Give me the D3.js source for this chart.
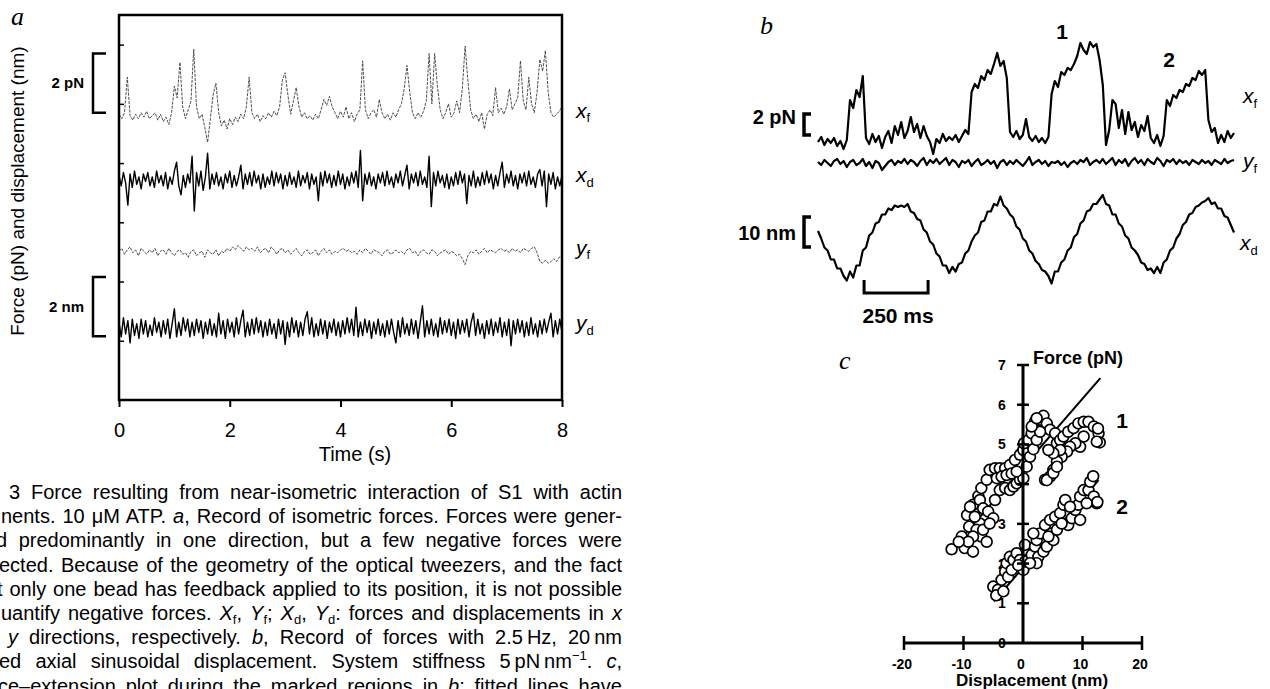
<!DOCTYPE html>
<html>
<head>
<meta charset="utf-8">
<script src="https://cdn.jsdelivr.net/npm/d3@7/dist/d3.min.js"></script>
<style>
  body { margin: 0; background: #fff; }
  svg { display: block; }
</style>
</head>
<body>
<svg id="fig" width="1270" height="689"></svg>
<script>
// ---------- panel a : isometric record (8 s) ----------
var timeTicksA = [0, 2, 4, 6, 8];
var levelTicksA = [2, 4, 6, 8, 10, 12];
var traceNamesA = [["x", "f"], ["x", "d"], ["y", "f"], ["y", "d"]];
var traceOffsetsA = [9.6, 7.43, 4.97, 2.43];

// x_f, sampled every 0.05 s (deviation from its baseline)
var xfA = [0.05,-0.1,0.1,1.3,0.0,-0.15,0.05,-0.1,0.1,-0.05,
  0.15,-0.1,0.0,0.1,-0.15,0.05,-0.2,-0.05,-0.3,0.1,
  1.0,0.6,1.8,0.3,-0.1,0.2,0.5,2.25,0.3,-0.1,
  0.05,-0.4,-0.9,-0.1,0.7,1.1,0.1,-0.35,-0.15,-0.45,
  -0.1,-0.3,-0.05,-0.2,0.05,-0.1,0.3,1.3,0.1,-0.1,
  0.05,-0.2,0.0,-0.1,0.1,-0.05,0.15,0.0,0.3,1.2,
  1.45,0.7,0.05,0.5,0.95,0.3,-0.05,0.1,-0.1,0.0,
  -0.15,0.05,-0.1,0.2,0.55,0.35,0.65,0.3,0.1,-0.1,
  0.15,-0.05,0.3,-0.1,0.1,-0.2,0.05,0.2,1.85,0.2,
  -0.1,0.1,0.2,-0.05,0.55,0.1,-0.1,0.05,-0.15,0.1,
  -0.05,0.2,0.4,0.9,1.7,0.8,0.1,-0.1,0.1,-0.05,
  0.15,0.5,2.1,0.4,2.1,1.0,0.2,-0.1,0.1,0.4,
  -0.05,0.1,0.5,0.1,0.9,2.35,1.2,0.2,-0.1,0.05,
  -0.2,0.1,-0.45,0.05,0.2,0.0,0.95,0.1,0.25,0.05,
  0.3,0.9,0.2,0.4,0.6,1.85,0.5,0.2,1.3,0.4,
  0.1,0.8,1.9,1.5,2.2,0.8,0.1,-0.05,0.05,0.15,
  0.3];

// x_d, sampled every 0.04 s
var xdA = [0.15,-0.2,0.25,-0.1,-0.85,0.2,-0.25,0.3,-0.15,0.1,-0.3,0.2,-0.05,0.25,-0.2,0.1,-0.25,0.3,-0.1,0.15,
  -0.2,0.25,-0.3,0.1,-0.15,0.3,0.6,-0.2,-0.5,0.15,-0.25,0.2,-0.1,0.8,-1.05,0.25,-0.2,0.3,-0.35,0.1,
  0.9,-0.3,0.2,-0.15,0.25,-0.2,0.1,-0.3,0.2,-0.1,0.3,-0.25,0.15,-0.2,0.1,0.5,-0.3,0.2,-0.15,0.25,
  -0.2,0.3,-0.1,0.15,-0.3,0.2,-0.25,0.1,-0.15,0.3,-0.2,0.25,-0.1,0.2,-0.3,0.15,-0.2,0.25,-0.15,0.1,
  -0.25,0.3,-0.2,0.15,-0.1,0.25,-0.3,0.2,-0.15,0.1,-0.7,0.25,-0.2,0.3,-0.1,0.2,-0.25,0.15,-0.2,0.3,
  -0.15,0.2,-0.3,0.1,-0.2,0.25,-0.1,0.3,-0.25,1.0,-0.7,0.2,-0.15,0.25,-0.2,0.1,-0.3,0.2,-0.1,0.25,
  -0.2,0.3,-0.15,0.1,-0.25,0.2,-0.1,0.3,-0.2,0.15,0.5,-0.3,0.2,-0.1,0.25,-0.2,0.3,-0.15,0.1,-0.25,
  0.8,-0.9,0.25,-0.2,0.3,-0.1,0.15,-0.25,0.2,-0.3,0.1,-0.2,0.25,-0.15,0.3,-0.1,0.2,-0.8,0.15,-0.2,
  0.3,-0.25,0.1,-0.2,0.25,-0.15,0.3,-0.1,0.2,-0.3,0.15,-0.2,0.25,0.6,-0.25,0.2,-0.1,0.3,-0.2,0.15,
  -0.3,0.2,-0.1,0.25,-0.2,0.3,-0.15,0.1,-0.25,0.2,0.35,-0.2,0.3,-0.9,0.2,-0.15,0.25,-0.3,0.1,-0.2,
  0.15];

// y_f, sampled every 0.05 s
var yfA = [0.05,0.15,-0.05,0.1,0.2,0.0,0.1,-0.1,0.15,0.05,-0.05,0.1,0.0,0.15,-0.1,0.05,0.1,-0.05,0.15,0.0,
  -0.1,0.05,0.1,-0.05,0.0,-0.15,0.05,0.1,-0.1,0.0,0.05,-0.15,0.1,0.0,-0.05,0.1,-0.1,0.05,0.0,0.15,
  0.05,0.2,0.1,0.25,0.15,0.05,0.2,0.1,0.15,0.05,0.2,0.0,0.1,0.15,0.0,0.2,0.1,-0.05,0.1,0.15,
  0.0,0.1,-0.05,0.05,0.15,0.0,-0.1,0.05,0.1,-0.05,0.0,0.1,-0.1,0.05,0.15,0.0,0.1,-0.05,0.05,0.0,
  0.1,0.15,0.05,0.1,0.0,0.05,-0.05,0.1,0.0,0.15,0.05,-0.05,0.1,0.05,0.0,-0.1,0.05,0.1,-0.05,0.0,
  0.1,0.0,0.05,-0.05,0.1,0.15,0.0,0.05,-0.1,0.05,0.1,0.0,-0.05,0.1,0.05,-0.1,0.0,0.05,0.1,-0.05,
  0.05,0.0,-0.1,-0.05,-0.2,-0.4,-0.1,0.05,0.0,0.1,-0.05,0.05,0.15,0.0,0.1,0.05,0.0,0.1,0.15,0.05,
  0.1,0.0,0.15,0.05,0.1,0.0,0.15,0.1,0.05,0.15,0.2,0.0,-0.3,-0.35,-0.25,-0.35,-0.3,-0.2,-0.3,-0.15,
  -0.1];

// y_d, sampled every 0.04 s
var ydA = [0.2,-0.3,0.35,-0.2,0.25,-0.5,0.3,-0.25,0.15,-0.35,0.3,-0.2,0.25,-0.3,0.1,-0.25,0.35,-0.15,0.2,-0.3,
  0.25,-0.2,0.3,-0.35,0.15,0.65,-0.3,0.2,-0.25,0.35,-0.1,0.3,-0.3,0.2,-0.25,0.3,-0.15,0.25,-0.35,0.2,
  -0.2,0.3,-0.25,0.15,-0.3,0.5,-0.2,0.25,-0.35,0.3,-0.15,0.2,-0.3,0.35,-0.2,0.25,0.6,-0.3,0.2,-0.25,
  0.3,-0.2,0.35,-0.15,0.25,-0.3,0.2,-0.25,0.3,-0.2,0.15,-0.35,0.3,-0.2,0.25,-0.55,0.2,-0.3,0.35,-0.15,
  0.25,-0.3,0.2,-0.25,0.3,0.55,-0.2,0.35,-0.3,0.15,-0.25,0.3,-0.2,0.25,-0.35,0.2,-0.15,0.3,-0.25,0.2,
  -0.3,0.25,-0.2,0.35,-0.15,0.3,-0.25,0.7,-0.3,0.2,-0.25,0.3,-0.15,0.25,-0.35,0.2,-0.2,0.3,-0.25,0.15,
  -0.3,0.25,-0.2,0.3,-0.15,-0.5,0.25,-0.3,0.35,-0.2,0.15,-0.25,0.3,-0.2,0.25,-0.35,0.2,0.75,-0.3,0.25,
  -0.2,0.3,-0.25,0.15,-0.3,0.35,-0.2,0.25,-0.15,0.3,-0.25,0.2,-0.35,0.3,-0.2,0.25,-0.15,0.3,-0.3,0.2,
  0.5,-0.25,0.3,-0.2,0.15,-0.35,0.25,-0.2,0.3,-0.25,0.2,-0.15,0.35,-0.3,0.2,-0.25,0.3,-0.6,0.25,-0.2,
  0.3,-0.15,0.25,-0.3,0.2,-0.25,0.35,-0.2,0.15,-0.3,0.25,-0.2,0.3,-0.15,0.2,0.5,-0.3,0.25,-0.2,0.3,
  -0.15];

var bracketsA = [["2 pN", 9.7, 11.7], ["2 nm", 2.15, 4.15]];

// ---------- panel b : 2.5 Hz sinusoidal displacement, 12.5 ms steps ----------
var stepB = 12.5;
var scaleBarB = [180, 430];   // ms
var xfB = [-0.2,0.3,-0.5,0.1,-0.3,0.2,-0.6,-0.1,-0.9,0.0,
  4.0,3.2,5.0,4.3,6.4,0.2,-0.4,0.6,-0.2,0.4,
  -0.8,0.3,0.9,-0.3,1.4,0.5,1.8,0.2,0.9,2.3,
  0.8,1.6,0.2,1.4,0.4,-0.2,-1.4,0.1,-0.3,0.6,
  -0.1,0.3,0.0,0.5,-0.2,0.4,1.0,0.6,4.8,5.6,
  5.2,6.4,6.0,7.0,6.6,7.6,8.7,7.4,7.9,6.2,
  0.8,0.3,0.9,0.1,0.5,2.1,0.3,-0.1,0.4,-0.2,
  0.2,-0.3,0.3,4.6,5.9,5.3,6.8,6.5,7.2,7.0,
  7.6,8.4,9.7,9.0,8.6,9.8,9.3,9.6,8.0,5.5,
  -0.5,1.0,4.0,3.6,1.2,3.0,0.6,2.8,1.0,1.8,
  0.3,1.5,0.9,2.4,0.2,-0.3,0.5,-0.6,0.4,4.0,
  3.4,4.5,4.2,5.0,4.8,5.6,5.4,6.2,6.0,6.9,
  6.5,7.0,2.0,0.8,1.2,-0.3,0.5,-0.2,0.9,0.2,
  0.7];
var yfOffsetB = -2.3;
var yfB = [0.1,-0.2,0.3,0.0,-0.3,0.2,0.4,-0.1,0.2,-0.4,0.1,0.3,-0.2,0.0,0.4,-0.3,0.1,-0.5,0.2,0.0,
  -0.7,-0.3,0.1,0.3,-0.2,0.2,0.0,0.4,-0.1,0.3,0.1,-0.3,0.2,0.5,-0.2,0.3,0.0,0.4,-0.1,0.2,
  0.5,-0.2,0.3,0.1,-0.4,0.2,0.0,0.3,-0.3,0.1,0.4,-0.2,0.0,0.3,-0.1,0.2,-0.5,0.1,0.3,-0.2,
  0.2,-0.1,0.3,0.0,-0.3,0.1,0.6,-0.2,0.1,0.3,-0.1,0.2,-0.3,0.1,0.0,0.2,-0.2,0.1,-0.4,0.0,
  0.2,-0.1,0.3,0.1,0.5,-0.2,0.1,0.3,0.0,0.4,-0.1,0.2,0.5,-0.2,0.3,0.0,0.4,-0.3,0.2,0.5,
  0.0,0.3,-0.2,0.4,0.1,-0.1,0.5,0.2,-0.3,0.3,0.1,0.4,-0.1,0.3,0.0,0.2,-0.2,0.3,0.1,-0.1,
  0.3,0.0,0.2,-0.2,0.3,0.1,-0.1,0.4,0.0,0.2,0.3];
var xdB = [3,0.5,-2.5,-3.5,-6.5,-6.5,-9.5,-9.5,-12,-13.5,
  -10.5,-12.5,-8.5,-8.5,-3.5,-2.5,1.5,2.5,5.5,6,
  8.5,8.5,10.5,10,11.5,11,11.5,11,12,9.5,
  9,7,6.5,3.5,2.5,-0.5,-1.5,-4.5,-5.5,-8.5,
  -8.5,-11,-9,-10.5,-8,-7.5,-4.5,-3.5,-0.5,1.5,
  2.5,6,6.5,9.5,9.5,12,11.5,14.5,11.5,10.5,
  8.5,7.5,4.5,3.5,0.5,-0.5,-3.5,-4.5,-7,-8,
  -10,-10.5,-12,-14.5,-10.5,-10.5,-7.5,-6.5,-3.5,-2.5,
  1,2,5.5,6.5,9.5,10,12,12,13.5,15,
  12,11.5,8.5,8.5,5.5,4.5,1.5,0.5,-2.5,-3.5,
  -5,-7.5,-8,-10,-9.5,-11,-9,-11,-7.5,-6.5,
  -3.5,-2.5,0.5,2,5,6,8.5,9,11,11.5,
  12.5,13,14,12,12.5,10.5,10.5,8,7.5,5,
  2.5];

// ---------- panel c : force-extension ----------
var dispTicksC = [-20, -10, 0, 10, 20];
var forceTicksC = [0, 1, 2, 3, 4, 5, 6, 7];
var cluster1 = [[-12.0,2.36],[-10.3,2.68],[-9.8,2.39],[-8.4,2.30],[-9.05,2.93],[-9.4,3.22],[-8.4,3.48],[-7.5,3.70],
  [-7.0,3.90],[-6.1,4.11],[-5.6,4.36],[-4.7,4.40],[-3.9,4.40],[-3.0,4.40],[-2.2,4.48],[-1.35,4.61],[-0.5,4.74],
  [0.06,4.86],[0.17,5.03],[0.9,5.11],[1.46,5.28],[2.02,5.57],[2.87,5.62],[3.43,5.72],[4.0,5.53],[4.55,5.37],
  [5.4,5.28],[5.7,5.03],[6.24,5.11],[6.8,5.2],[7.6,5.32],[8.5,5.41],[9.3,5.53],[10.2,5.57],[11.0,5.57],
  [11.9,5.45],[12.7,5.28],[12.9,5.05],[12.6,5.4],[12.4,5.07],[10.2,5.2],[9.6,4.94],[8.8,5.03],[7.9,4.94],
  [7.4,4.82],[6.5,4.69],[5.7,4.57],[5.1,4.36],[4.55,4.19],[3.7,4.11],[6.24,4.86],[5.1,4.78],[4.27,4.86],
  [-7.25,3.6],[-6.7,3.39],[-5.85,3.31],[-5.0,3.14],[-4.7,3.6],[-3.9,3.85],[-3.0,3.90],[-2.2,3.85],[-1.6,3.94],
  [-1.06,4.02],[-0.5,4.11],[0.06,4.15],[-7.25,3.01],[-7.8,2.85],[-7.0,2.68],[-6.1,2.55],[-8.4,2.68],[-6.7,2.85],
  [-5.6,3.01],[-8.9,3.43],[-8.1,3.18],[-9.2,2.55],[-10.8,2.55],[-4.4,4.15],[-3.6,4.19],[-2.75,4.23],[-1.9,4.27],
  [-1.06,4.32],[0.62,4.44],[1.18,4.69],[1.74,4.88],[2.3,5.11],[2.87,5.32],[1.46,5.45],[2.3,5.66],[4.0,4.1],
  [5.1,4.28],[5.7,4.44]];
var cluster2 = [[-5.0,1.42],[-4.2,1.34],[-3.6,1.59],[-3.0,1.80],[-2.75,2.01],[-2.2,2.17],[-1.6,2.09],[-1.06,2.26],
  [-0.5,2.09],[0.06,1.84],[0.34,2.05],[0.62,2.34],[0.34,2.47],[1.46,2.22],[2.02,2.43],[2.3,2.59],[2.58,2.17],
  [3.43,2.30],[4.0,2.43],[2.87,2.76],[3.7,2.97],[4.55,3.10],[4.83,2.76],[5.7,2.85],[5.4,3.18],[6.24,3.27],
  [6.8,3.48],[7.1,3.60],[7.6,2.97],[8.2,3.14],[8.8,3.35],[9.3,3.48],[9.6,3.69],[10.2,3.85],[11.0,3.85],
  [11.3,4.06],[11.9,3.69],[12.4,3.52],[10.7,3.52],[9.6,3.10],[7.9,3.43],[6.5,3.01],[5.1,2.59],[4.27,2.68],
  [1.74,2.76],[2.3,2.01],[1.18,2.01],[-2.5,1.67],[-1.9,1.84],[-0.8,1.96],[12.5,3.55],[11.8,4.2],[-4.5,1.2],
  [-3.3,1.3]];
var fitLine1 = [[-12.3, 2.3], [13, 6.67]];
var fitLine2 = [[-4.9, 1.05], [12.7, 4.1]];

// ---------- caption ----------
var captionStarts = [9, 1, -4, -1, -3, 1, 8, -1, -2];
var captionLines = [
  [["3 Force resulting from near-isometric interaction of S1 with actin"]],
  [["nents. 10 \u03bcM ATP. "], ["a", "i"], [", Record of isometric forces. Forces were gener-"]],
  [["d predominantly in one direction, but a few negative forces were"]],
  [["ected. Because of the geometry of the optical tweezers, and the fact"]],
  [["t only one bead has feedback applied to its position, it is not possible"]],
  [["uantify negative forces. "], ["X", "i"], ["f", "sub"], [", "], ["Y", "i"], ["f", "sub"], ["; "], ["X", "i"], ["d", "sub"],
   [", "], ["Y", "i"], ["d", "sub"], [": forces and displacements in "], ["x", "i"]],
  [["y", "i"], [" directions, respectively. "], ["b", "i"], [", Record of forces with 2.5\u2009Hz, 20\u2009nm"]],
  [["ed axial sinusoidal displacement. System stiffness 5\u2009pN\u2009nm"], ["\u22121", "sup"], [". "], ["c", "i"], [","]],
  [["ce\u2013extension plot during the marked regions in "], ["b", "i"], ["; fitted lines have"]]
];

var SANS = "'Liberation Sans', Arial, sans-serif";
var SERIF = "'Liberation Serif', 'Times New Roman', serif";
var svg = d3.select("#fig");

function bracket(g, x, y1, y2, serif, sw) {
  g.append("path")
    .attr("d", `M${x + serif},${y1}H${x}V${y2}H${x + serif}`)
    .attr("fill", "none").attr("stroke", "#000").attr("stroke-width", sw);
}

function subLabel(g, x, y, main, sub, size) {
  var t = g.append("text").attr("x", x).attr("y", y)
    .attr("font-family", SANS).attr("font-size", size);
  t.append("tspan").attr("font-style", "italic").text(main);
  t.append("tspan").attr("font-size", size * 0.62).attr("dy", size * 0.22).text(sub);
}

// ================= panel a =================
var xA = d3.scaleLinear().domain([0, 8]).range([119, 562]);
var yA = d3.scaleLinear().domain([0, 13]).range([400, 15]);
var gA = svg.append("g");

gA.append("text").attr("x", 11).attr("y", 25)
  .attr("font-family", SERIF).attr("font-style", "italic").attr("font-size", 26).text("a");

var lineStyleA = [
  { stroke: "#3a3a3a", width: 0.9, dash: "3,1.2" },
  { stroke: "#000", width: 1.4, dash: null },
  { stroke: "#3a3a3a", width: 0.9, dash: "3,1.2" },
  { stroke: "#000", width: 1.4, dash: null }
];
[xfA, xdA, yfA, ydA].forEach(function (vals, k) {
  var n = vals.length;
  var line = d3.line()
    .x(function (d, i) { return xA(i * 8 / (n - 1)); })
    .y(function (d) { return yA(traceOffsetsA[k] + d); });
  gA.append("path").datum(vals)
    .attr("d", line).attr("fill", "none")
    .attr("stroke", lineStyleA[k].stroke)
    .attr("stroke-width", lineStyleA[k].width)
    .attr("stroke-dasharray", lineStyleA[k].dash)
    .attr("stroke-linejoin", "round");
});

// frame
gA.append("rect")
  .attr("x", xA(0)).attr("y", yA(13))
  .attr("width", xA(8) - xA(0)).attr("height", yA(0) - yA(13))
  .attr("fill", "none").attr("stroke", "#000").attr("stroke-width", 2.5);

var axB = gA.append("g").attr("transform", `translate(0,${yA(0)})`)
  .call(d3.axisBottom(xA).tickValues(timeTicksA).tickSize(7).tickPadding(16));
axB.select(".domain").remove();
axB.attr("font-family", SANS).attr("font-size", 20);
axB.selectAll("line").attr("stroke-width", 2);

var axL = gA.append("g").attr("transform", `translate(${xA(0)},0)`)
  .call(d3.axisRight(yA).tickValues(levelTicksA).tickSize(5).tickFormat(""));
axL.select(".domain").remove();
axL.selectAll("line").attr("stroke-width", 1.5);

gA.append("text").attr("x", 355).attr("y", 461).attr("text-anchor", "middle")
  .attr("font-family", SANS).attr("font-size", 20).text("Time (s)");

gA.append("text").attr("transform", "translate(24,191) rotate(-90)").attr("text-anchor", "middle")
  .attr("font-family", SANS).attr("font-size", 19).text("Force (pN) and displacement (nm)");

bracketsA.forEach(function (b) {
  bracket(gA, 93, yA(b[2]), yA(b[1]), 13, 2.5);
  gA.append("text").attr("x", 84).attr("y", (yA(b[1]) + yA(b[2])) / 2 + 5)
    .attr("text-anchor", "end").attr("font-family", SANS).attr("font-weight", "bold")
    .attr("font-size", 15).text(b[0]);
});

traceNamesA.forEach(function (nm, k) {
  subLabel(gA, 576, yA(traceOffsetsA[k]) + 2, nm[0], nm[1], 21);
});

// ================= panel b =================
var tB = d3.scaleLinear().domain([0, 1625]).range([818, 1234]);
var fB = d3.scaleLinear().domain([0, 10]).range([140, 40]);
var dB = d3.scaleLinear().domain([-15, 15]).range([285, 195]);
var gB = svg.append("g");

gB.append("text").attr("x", 760).attr("y", 34)
  .attr("font-family", SERIF).attr("font-style", "italic").attr("font-size", 26).text("b");

function traceB(vals, yfun) {
  gB.append("path").datum(vals)
    .attr("d", d3.line().x(function (d, i) { return tB(i * stepB); }).y(yfun))
    .attr("fill", "none").attr("stroke", "#000").attr("stroke-width", 2.2)
    .attr("stroke-linejoin", "round");
}
traceB(xfB, function (d) { return fB(d); });
traceB(yfB, function (d) { return fB(yfOffsetB + d); });
traceB(xdB, function (d) { return dB(d); });

bracket(gB, 804, fB(2.6), fB(0.5), 7, 3.5);
gB.append("text").attr("x", 796).attr("y", 124).attr("text-anchor", "end")
  .attr("font-family", SANS).attr("font-weight", "bold").attr("font-size", 20).text("2 pN");
bracket(gB, 804, dB(7.7), dB(-2.3), 7, 3.5);
gB.append("text").attr("x", 796).attr("y", 240).attr("text-anchor", "end")
  .attr("font-family", SANS).attr("font-weight", "bold").attr("font-size", 20).text("10 nm");

gB.append("path")
  .attr("d", `M${tB(scaleBarB[0])},${dB(-13.3)}V${dB(-17.7)}H${tB(scaleBarB[1])}V${dB(-13.3)}`)
  .attr("fill", "none").attr("stroke", "#000").attr("stroke-width", 3);
gB.append("text").attr("x", (tB(scaleBarB[0]) + tB(scaleBarB[1])) / 2 + 2).attr("y", 323)
  .attr("text-anchor", "middle").attr("font-family", SANS).attr("font-weight", "bold")
  .attr("font-size", 21).text("250 ms");

gB.append("text").attr("x", 1062).attr("y", 39).attr("text-anchor", "middle")
  .attr("font-family", SANS).attr("font-weight", "bold").attr("font-size", 21).text("1");
gB.append("text").attr("x", 1169).attr("y", 67).attr("text-anchor", "middle")
  .attr("font-family", SANS).attr("font-weight", "bold").attr("font-size", 21).text("2");

subLabel(gB, 1243, 103, "x", "f", 21);
subLabel(gB, 1243, 168, "y", "f", 21);
subLabel(gB, 1240, 250, "x", "d", 21);

// ================= panel c =================
var xC = d3.scaleLinear().domain([-20, 20]).range([904, 1142]);
var yC = d3.scaleLinear().domain([0, 7]).range([643, 365]);
var gC = svg.append("g");

gC.append("text").attr("x", 839).attr("y", 369)
  .attr("font-family", SERIF).attr("font-style", "italic").attr("font-size", 26).text("c");

// tick labels first: some are hidden under the open circles
gC.selectAll(".fl").data(forceTicksC).enter().append("text")
  .attr("x", 1002).attr("y", function (d) { return yC(d) + 5; })
  .attr("text-anchor", "middle").attr("font-family", SANS).attr("font-weight", "bold")
  .attr("font-size", 14).text(function (d) { return d; });
gC.selectAll(".dl").data(dispTicksC).enter().append("text")
  .attr("x", function (d) { return xC(d) - 2; }).attr("y", 669)
  .attr("text-anchor", "middle").attr("font-family", SANS).attr("font-weight", "bold")
  .attr("font-size", 14).text(function (d) { return d; });

var fitLine = d3.line().x(function (d) { return xC(d[0]); }).y(function (d) { return yC(d[1]); });
[fitLine1, fitLine2].forEach(function (l) {
  gC.append("path").datum(l).attr("d", fitLine)
    .attr("stroke", "#000").attr("stroke-width", 2).attr("fill", "none");
});

gC.selectAll(".pt").data(cluster1.concat(cluster2)).enter().append("circle")
  .attr("cx", function (d) { return xC(d[0]); })
  .attr("cy", function (d) { return yC(d[1]); })
  .attr("r", 5.4).attr("fill", "#fff").attr("stroke", "#000").attr("stroke-width", 1.7);

// axes on top
gC.append("line").attr("x1", xC(-20)).attr("x2", xC(20)).attr("y1", yC(0)).attr("y2", yC(0))
  .attr("stroke", "#000").attr("stroke-width", 3);
gC.append("line").attr("x1", xC(0)).attr("x2", xC(0)).attr("y1", yC(0)).attr("y2", yC(7))
  .attr("stroke", "#000").attr("stroke-width", 3);
gC.selectAll(".ft").data(forceTicksC.slice(1)).enter().append("line")
  .attr("x1", xC(0) - 6).attr("x2", xC(0) + 6)
  .attr("y1", function (d) { return yC(d); }).attr("y2", function (d) { return yC(d); })
  .attr("stroke", "#000").attr("stroke-width", 2.5);
gC.selectAll(".dt").data(dispTicksC.filter(function (d) { return d !== 0; })).enter().append("line")
  .attr("x1", function (d) { return xC(d); }).attr("x2", function (d) { return xC(d); })
  .attr("y1", yC(0) - 7).attr("y2", yC(0) + 7)
  .attr("stroke", "#000").attr("stroke-width", 2.5);

gC.append("text").attr("x", 1033).attr("y", 364)
  .attr("font-family", SANS).attr("font-weight", "bold").attr("font-size", 18).text("Force (pN)");
gC.append("text").attr("x", 1032).attr("y", 686).attr("text-anchor", "middle")
  .attr("font-family", SANS).attr("font-weight", "bold").attr("font-size", 17).text("Displacement (nm)");
gC.append("text").attr("x", 1122).attr("y", 428).attr("text-anchor", "middle")
  .attr("font-family", SANS).attr("font-weight", "bold").attr("font-size", 21).text("1");
gC.append("text").attr("x", 1122).attr("y", 514).attr("text-anchor", "middle")
  .attr("font-family", SANS).attr("font-weight", "bold").attr("font-size", 21).text("2");

// ================= caption (justified to x = 622) =================
var gT = svg.append("g");
captionLines.forEach(function (segs, k) {
  var x0 = captionStarts[k];
  var t = gT.append("text").attr("x", x0).attr("y", 499 + k * 24.2)
    .attr("font-family", SANS).attr("font-size", 20).attr("fill", "#000");
  var shift = 0;
  segs.forEach(function (s) {
    var ts = t.append("tspan").text(s[0]);
    var want = 0;
    if (s[1] === "i") ts.attr("font-style", "italic");
    if (s[1] === "sub") { ts.attr("font-size", 13); want = 4; }
    if (s[1] === "sup") { ts.attr("font-size", 13); want = -8; }
    if (want !== shift) ts.attr("dy", want - shift);
    shift = want;
  });
  var full = segs.map(function (s) { return s[0]; }).join("");
  var spaces = (full.match(/ /g) || []).length;
  var w = t.node().getComputedTextLength();
  if (spaces > 0) t.attr("word-spacing", (622 - x0 - w) / spaces);
});
</script>
</body>
</html>
